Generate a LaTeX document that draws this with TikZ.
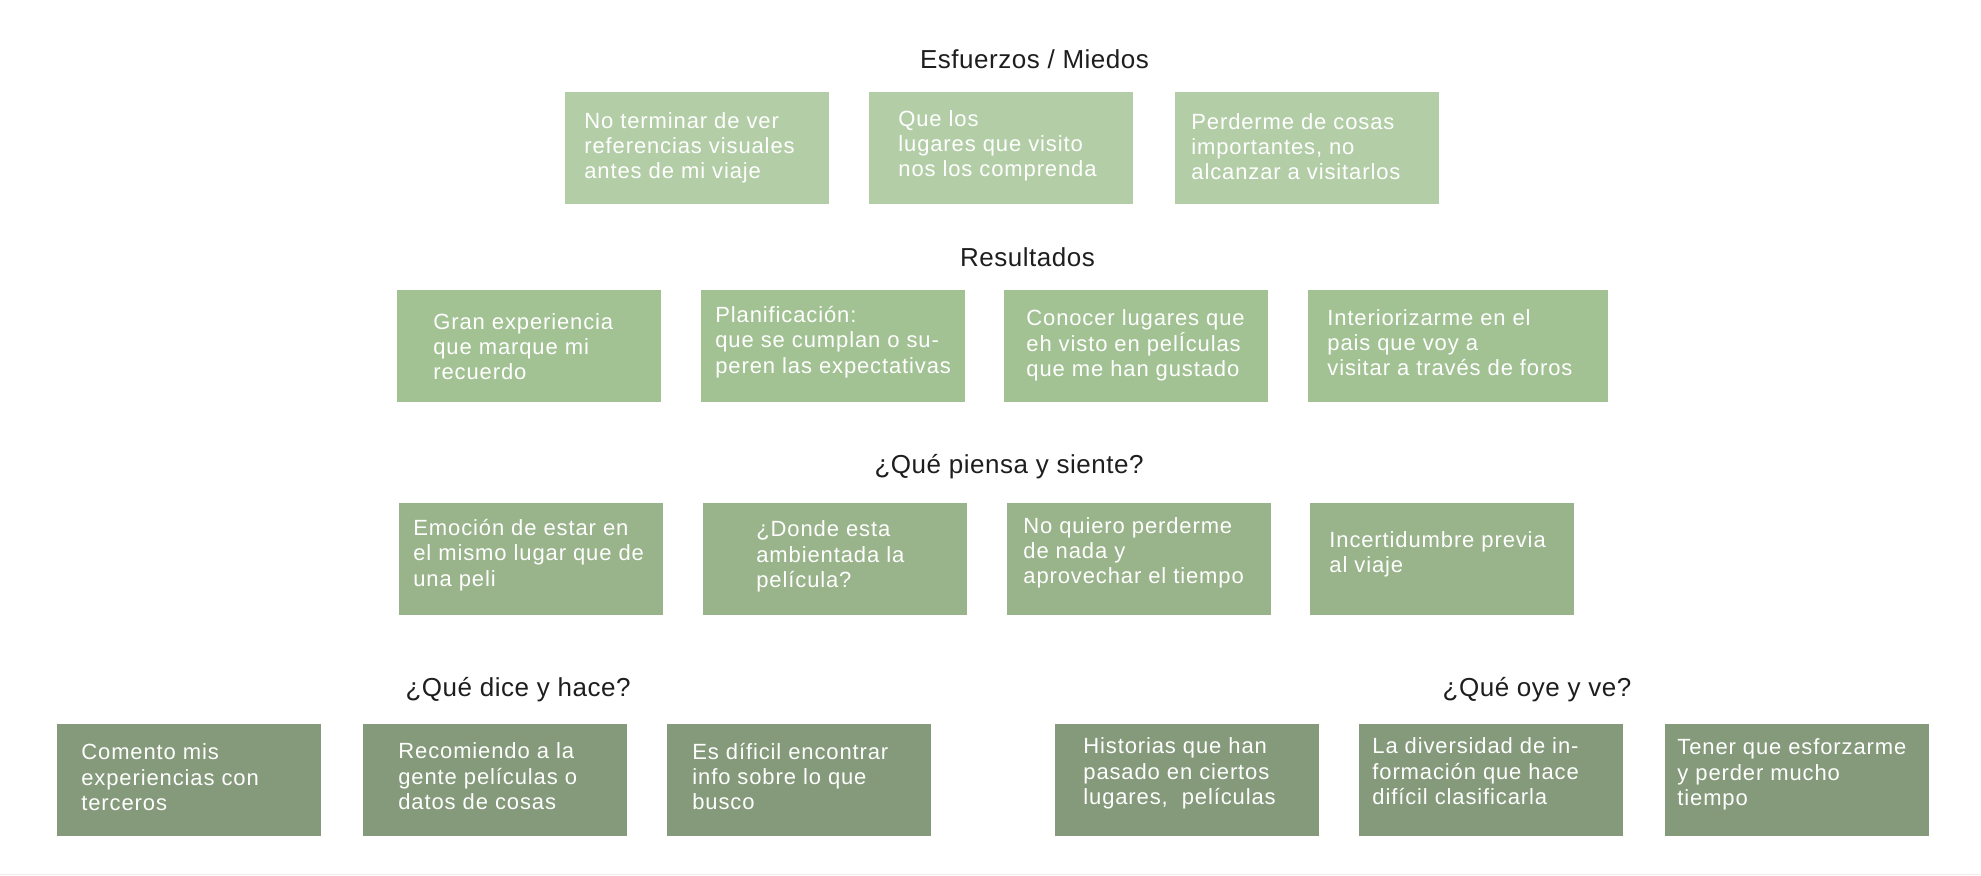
\documentclass[tikz,border=0pt]{standalone}
\usepackage{fontspec}
\setmainfont{Liberation Sans}
\newfontfamily\boxfont[LetterSpace=4]{Liberation Sans}
\newfontfamily\titlefont[LetterSpace=2]{Liberation Sans}
\definecolor{rowa}{HTML}{B3CEA7}
\definecolor{rowb}{HTML}{A2C294}
\definecolor{rowc}{HTML}{99B38B}
\definecolor{rowd}{HTML}{849A7A}
\definecolor{titlec}{HTML}{1E1E1E}
\definecolor{basel}{HTML}{ECECEC}
\tikzset{
  box/.style={draw=none, minimum width=132pt, minimum height=56pt, inner sep=0pt},
  txt/.style={anchor=west, align=left, text=white, inner sep=0pt,
    font=\boxfont\fontsize{11}{12.6}\selectfont,
    execute at begin node=\strut, execute at end node=\strut},
  ttl/.style={anchor=base, text=titlec, inner sep=0pt,
    font=\titlefont\fontsize{13}{15}\selectfont},
}
\begin{document}
\begin{tikzpicture}[x=0.5pt,y=-0.5pt]
\useasboundingbox (0,0) rectangle (1981,876);
\fill[white] (0,0) rectangle (1981,876);
\draw[basel, line width=0.5pt] (0,874) -- (1981,874);

% Titles
\node[ttl] (t1) at (1034.5,69) {Esfuerzos / Miedos};
\node[ttl] (t2) at (1027.5,267) {Resultados};
\node[ttl] (t3) at (1009,474) {¿Qué piensa y siente?};
\node[ttl] (t4) at (518,697) {¿Qué dice y hace?};
\node[ttl] (t5) at (1537,697) {¿Qué oye y ve?};

% Row 1
\node[box, fill=rowa] (a1) at (697,148) {};
\node[box, fill=rowa] (a2) at (1001,148) {};
\node[box, fill=rowa] (a3) at (1307,148) {};
\node[txt] (a1t) at (584,149.5) {No terminar de ver\\referencias visuales\\antes de mi viaje};
\node[txt] (a2t) at (898,147.5) {Que los\\lugares que visito\\nos los comprenda};
\node[txt] (a3t) at (1191,150.5) {Perderme de cosas\\importantes, no\\alcanzar a visitarlos};

% Row 2
\node[box, fill=rowb] (b1) at (529,346.5) {};
\node[box, fill=rowb] (b2) at (832.5,346.5) {};
\node[box, fill=rowb] (b3) at (1136,346.5) {};
\node[box, fill=rowb, minimum width=150pt] (b4) at (1458,346.5) {};
\node[txt] (b1t) at (433,350.5) {Gran experiencia\\que marque mi\\recuerdo};
\node[txt] (b2t) at (715,343.5) {Planificación:\\que se cumplan o su-\\peren las expectativas};
\node[txt] (b3t) at (1026,347) {Conocer lugares que\\eh visto en pelÍculas\\que me han gustado};
\node[txt] (b4t) at (1327,346.5) {Interiorizarme en el\\pais que voy a\\visitar a través de foros};

% Row 3
\node[box, fill=rowc] (c1) at (531,559) {};
\node[box, fill=rowc] (c2) at (834.5,559) {};
\node[box, fill=rowc] (c3) at (1139,559) {};
\node[box, fill=rowc] (c4) at (1442,559) {};
\node[txt] (c1t) at (413,556.5) {Emoción de estar en\\el mismo lugar que de\\una peli};
\node[txt] (c2t) at (756,558) {¿Donde esta\\ambientada la\\película?};
\node[txt] (c3t) at (1023,554.5) {No quiero perderme\\de nada y\\aprovechar el tiempo};
\node[txt] (c4t) at (1329,556) {Incertidumbre previa\\al viaje};

% Row 4
\node[box, fill=rowd] (d1) at (189,780) {};
\node[box, fill=rowd] (d2) at (495,780) {};
\node[box, fill=rowd] (d3) at (799,780) {};
\node[box, fill=rowd] (d4) at (1187,780) {};
\node[box, fill=rowd] (d5) at (1491,780) {};
\node[box, fill=rowd] (d6) at (1797,780) {};
\node[txt] (d1t) at (81,781) {Comento mis\\experiencias con\\terceros};
\node[txt] (d2t) at (398,780) {Recomiendo a la\\gente películas o\\datos de cosas};
\node[txt] (d3t) at (692,780) {Es díficil encontrar\\info sobre lo que\\busco};
\node[txt] (d4t) at (1083,775) {Historias que han\\pasado en ciertos\\lugares,\ \ películas};
\node[txt] (d5t) at (1372,775) {La diversidad de in-\\formación que hace\\difícil clasificarla};
\node[txt] (d6t) at (1677,776) {Tener que esforzarme\\y perder mucho\\tiempo};
\end{tikzpicture}
\end{document}
